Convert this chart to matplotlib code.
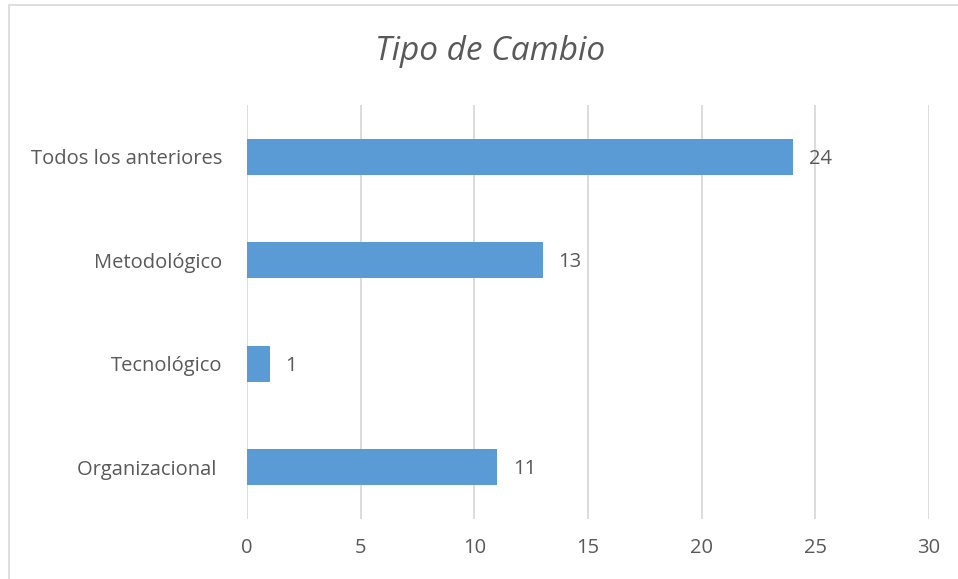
import matplotlib
matplotlib.use("Agg")
import matplotlib.pyplot as plt
from matplotlib.patches import Rectangle

categories = ["Organizacional ", "Tecnológico", "Metodológico", "Todos los anteriores"]
values = [11, 1, 13, 24]
xticks = [0, 5, 10, 15, 20, 25, 30]

text_color = "#595959"
bar_color = "#5B9BD5"
grid_color = "#D9D9D9"

plt.rcParams["font.family"] = ["Open Sans", "DejaVu Sans"]

fig = plt.figure(figsize=(9.58, 5.79), dpi=100)
ax = fig.add_axes([247 / 958, 1 - 519 / 579, (929 - 247) / 958, (519 - 105) / 579])

pos = list(range(len(categories)))
ax.barh(pos, values, height=0.35, color=bar_color, zorder=3)
for p, v in zip(pos, values):
    ax.text(v + 0.7, p - 0.02, str(v), va="center", ha="left", fontsize=14.5, color=text_color)

ax.set_xlim(0, 30)
ax.set_ylim(-0.5, len(categories) - 0.5)
ax.set_xticks(xticks)
ax.set_yticks(pos)
ax.set_yticklabels(categories)
ax.tick_params(axis="both", length=0, labelsize=14.5, colors=text_color)
ax.tick_params(axis="x", pad=14)
ax.tick_params(axis="y", pad=18)
ax.grid(axis="x", color=grid_color, linewidth=1.3, zorder=0)
for s in ax.spines.values():
    s.set_visible(False)

fig.text(490 / 958, 1 - 52 / 579, "Tipo de Cambio", ha="center", va="center",
         fontsize=24, style="italic", color=text_color)

fig.add_artist(Rectangle((9 / 958, -0.1), 1.2, 1.1 - 5 / 579, transform=fig.transFigure,
                         fill=False, edgecolor="#D9D9D9", linewidth=1.2))

fig.savefig("out.png", dpi=100)
